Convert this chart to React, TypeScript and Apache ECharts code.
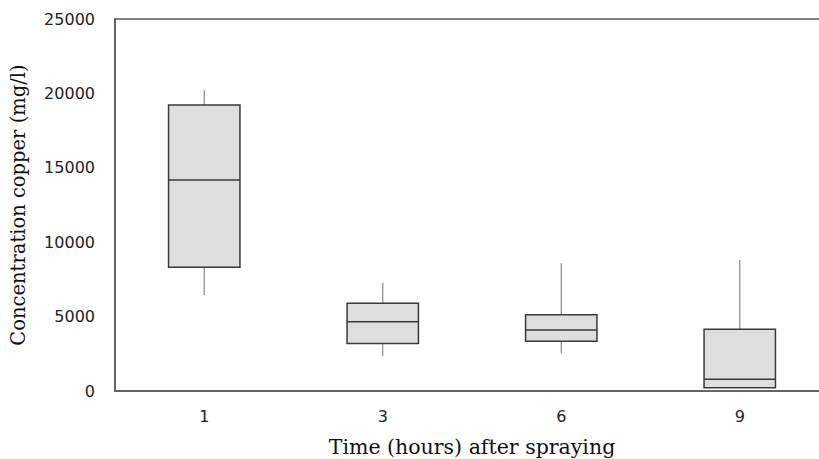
import React, { useEffect, useRef } from "react";
import * as echarts from "echarts";

const categories = ["1", "3", "6", "9"];
const minValues = [6450, 2350, 2530, 220];
const q1Values = [8310, 3200, 3340, 220];
const medianValues = [14180, 4660, 4100, 790];
const q3Values = [19220, 5890, 5130, 4150];
const maxValues = [20230, 7280, 8580, 8800];

export default function App() {
  const ref = useRef<HTMLDivElement>(null);
  useEffect(() => {
    if (!ref.current) return;
    const chart = echarts.init(ref.current, null, { renderer: "svg" });
    const data = categories.map((_, i) => [
      i,
      minValues[i],
      q1Values[i],
      medianValues[i],
      q3Values[i],
      maxValues[i],
    ]);
    chart.setOption({
      animation: false,
      backgroundColor: "#ffffff",
      grid: {
        left: 115,
        top: 19,
        width: 714,
        height: 372,
        outerBoundsMode: "none",
        containLabel: false,
        show: true,
        borderColor: "#5a5a5a",
        borderWidth: 1.5,
        backgroundColor: "transparent",
      },
      xAxis: {
        type: "category",
        data: categories,
        boundaryGap: true,
        axisLine: { show: true, lineStyle: { color: "#5a5a5a", width: 1.5 } },
        axisTick: { show: false },
        axisLabel: {
          margin: 17,
          fontFamily: "DejaVu Sans",
          fontSize: 16,
          color: "#222",
        },
        name: "Time (hours) after spraying",
        nameLocation: "middle",
        nameGap: 45,
        nameTextStyle: {
          fontFamily: "DejaVu Serif",
          fontSize: 20.5,
          color: "#111",
        },
      },
      yAxis: {
        type: "value",
        min: 0,
        max: 25000,
        interval: 5000,
        splitLine: { show: false },
        axisLine: { show: true, lineStyle: { color: "#5a5a5a", width: 1.5 } },
        axisTick: { show: false },
        axisLabel: {
          margin: 20,
          fontFamily: "DejaVu Sans",
          fontSize: 16,
          color: "#222",
          formatter: (v: number) => String(v),
        },
        name: "Concentration copper (mg/l)",
        nameLocation: "middle",
        nameGap: 87,
        nameTextStyle: {
          fontFamily: "DejaVu Serif",
          fontSize: 19.5,
          color: "#111",
        },
      },
      series: [
        {
          type: "custom",
          data,
          encode: { x: 0, y: [1, 2, 3, 4, 5] },
          renderItem: (params: any, api: any) => {
            const idx = api.value(0);
            const pMin = api.coord([idx, api.value(1)]);
            const pQ1 = api.coord([idx, api.value(2)]);
            const pMed = api.coord([idx, api.value(3)]);
            const pQ3 = api.coord([idx, api.value(4)]);
            const pMax = api.coord([idx, api.value(5)]);
            const band = api.size([1, 0])[0];
            const w = band * 0.4;
            const x = pMed[0];
            const left = x - w / 2;
            const right = x + w / 2;
            const boxStroke = "#3a3a3a";
            return {
              type: "group",
              children: [
                {
                  type: "line",
                  shape: { x1: x, y1: pMax[1], x2: x, y2: pQ3[1] },
                  style: { stroke: "#8a8a8a", lineWidth: 1.2 },
                },
                {
                  type: "line",
                  shape: { x1: x, y1: pQ1[1], x2: x, y2: pMin[1] },
                  style: { stroke: "#8a8a8a", lineWidth: 1.2 },
                },
                {
                  type: "rect",
                  shape: { x: left, y: pQ3[1], width: w, height: pQ1[1] - pQ3[1] },
                  style: { fill: "#dedede", stroke: boxStroke, lineWidth: 1.5 },
                },
                {
                  type: "line",
                  shape: { x1: left, y1: pMed[1], x2: right, y2: pMed[1] },
                  style: { stroke: boxStroke, lineWidth: 1.5 },
                },
              ],
            };
          },
        },
      ],
    });
    return () => chart.dispose();
  }, []);
  return (
    <div
      ref={ref}
      style={{ position: "fixed", left: 0, top: 0, width: 819, height: 459 }}
    />
  );
}
